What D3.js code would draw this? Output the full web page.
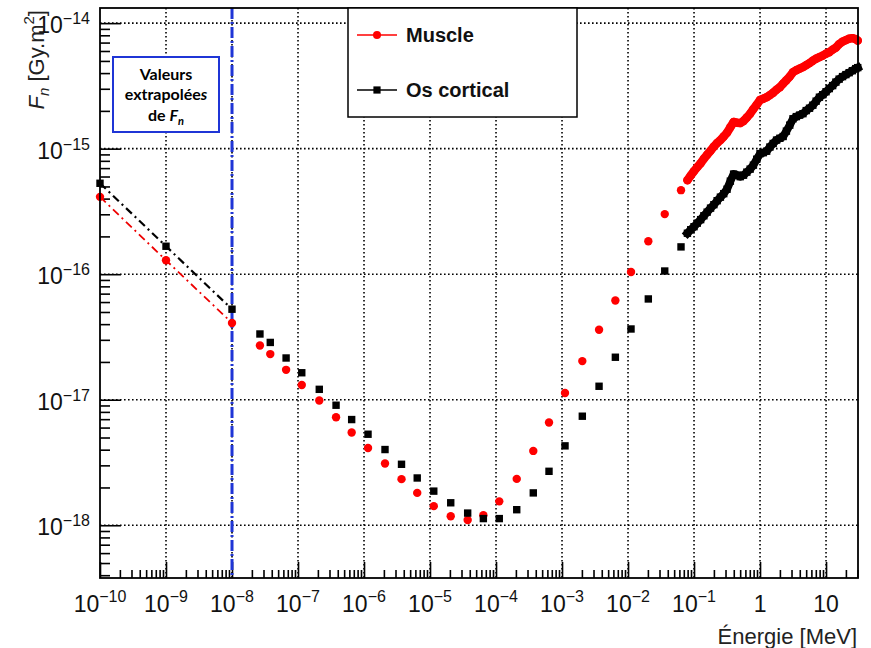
<!DOCTYPE html>
<html><head><meta charset="utf-8">
<script src="https://cdn.jsdelivr.net/npm/d3@7"></script>
<style>body{margin:0;background:#fff;} svg{display:block;font-family:"Liberation Sans",Arial,sans-serif;}</style>
</head><body><svg id="c" width="871" height="648"></svg>
<script>
// ---- data ----
const seriesNames = ["Muscle", "Os cortical"];

const energyExtrap = [1e-10, 1e-9, 1e-8];
const muscleExtrap = [4.13e-16, 1.29e-16, 4.09e-17];
const osExtrap     = [5.3e-16, 1.67e-16, 5.26e-17];

const energyLow = [2.65e-8, 3.8e-8, 6.6e-8, 1.14e-7, 2.1e-7, 3.77e-7, 6.5e-7, 1.15e-6, 2.08e-6, 3.7e-6, 6.4e-6,
  1.14e-5, 2.06e-5, 3.72e-5, 6.43e-5, 1.12e-4, 2.06e-4, 3.67e-4, 6.35e-4, 1.11e-3, 2.03e-3, 3.64e-3, 6.43e-3,
  1.11e-2, 2.03e-2, 3.6e-2, 6.35e-2];
const muscleLow = [2.70e-17, 2.31e-17, 1.73e-17, 1.31e-17, 9.86e-18, 7.26e-18, 5.48e-18, 4.13e-18, 3.10e-18, 2.33e-18, 1.81e-18,
  1.42e-18, 1.18e-18, 1.10e-18, 1.20e-18, 1.55e-18, 2.34e-18, 3.91e-18, 6.58e-18, 1.13e-17, 2.03e-17, 3.61e-17, 6.17e-17,
  1.04e-16, 1.83e-16, 3.01e-16, 4.67e-16];
const osLow = [3.34e-17, 2.86e-17, 2.15e-17, 1.64e-17, 1.21e-17, 9.04e-18, 6.95e-18, 5.31e-18, 4.01e-18, 3.06e-18, 2.38e-18,
  1.87e-18, 1.51e-18, 1.25e-18, 1.13e-18, 1.13e-18, 1.33e-18, 1.81e-18, 2.69e-18, 4.29e-18, 7.39e-18, 1.28e-17, 2.18e-17,
  3.66e-17, 6.35e-17, 1.06e-16, 1.65e-16];

const energyHigh = [0.0794, 0.0891, 0.1, 0.112, 0.126, 0.141, 0.158, 0.178, 0.2, 0.224, 0.251, 0.282, 0.316, 0.355,
  0.398, 0.447, 0.501, 0.562, 0.631, 0.708, 0.794, 0.891, 1, 1.12, 1.26, 1.41, 1.58, 1.78, 2, 2.24, 2.51, 2.82,
  3.16, 3.55, 3.98, 4.47, 5.01, 5.62, 6.31, 7.08, 7.94, 8.91, 10, 11.2, 12.6, 14.1, 15.8, 17.8, 20, 22.4, 25.1, 28.2, 30.2];
const muscleHigh = [5.61e-16, 6.10e-16, 6.62e-16, 7.13e-16, 7.66e-16, 8.32e-16, 8.95e-16, 9.64e-16, 1.04e-15, 1.11e-15,
  1.17e-15, 1.25e-15, 1.34e-15, 1.48e-15, 1.63e-15, 1.61e-15, 1.60e-15, 1.66e-15, 1.77e-15, 1.90e-15, 2.07e-15, 2.24e-15,
  2.44e-15, 2.50e-15, 2.57e-15, 2.67e-15, 2.79e-15, 2.95e-15, 3.09e-15, 3.30e-15, 3.51e-15, 3.75e-15, 4.07e-15, 4.22e-15,
  4.34e-15, 4.46e-15, 4.63e-15, 4.80e-15, 5.02e-15, 5.21e-15, 5.36e-15, 5.51e-15, 5.71e-15, 5.87e-15, 6.15e-15, 6.38e-15,
  6.81e-15, 7.13e-15, 7.32e-15, 7.52e-15, 7.59e-15, 7.46e-15, 7.26e-15];
const osHigh = [2.12e-16, 2.26e-16, 2.39e-16, 2.55e-16, 2.72e-16, 2.92e-16, 3.12e-16, 3.36e-16, 3.58e-16, 3.85e-16,
  4.11e-16, 4.38e-16, 4.75e-16, 5.51e-16, 6.27e-16, 6.15e-16, 5.98e-16, 6.15e-16, 6.50e-16, 6.87e-16, 7.39e-16, 8.24e-16,
  9.12e-16, 9.29e-16, 9.55e-16, 1.03e-15, 1.10e-15, 1.17e-15, 1.21e-15, 1.25e-15, 1.38e-15, 1.54e-15, 1.73e-15, 1.80e-15,
  1.85e-15, 1.90e-15, 2.01e-15, 2.10e-15, 2.22e-15, 2.39e-15, 2.57e-15, 2.69e-15, 2.84e-15, 3.01e-15, 3.18e-15, 3.39e-15,
  3.58e-15, 3.75e-15, 3.89e-15, 4.03e-15, 4.18e-15, 4.34e-15, 4.42e-15];

const xTickValues = [1e-10, 1e-9, 1e-8, 1e-7, 1e-6, 1e-5, 1e-4, 1e-3, 1e-2, 1e-1, 1, 10];
const xTickBases  = ["10","10","10","10","10","10","10","10","10","10","1","10"];
const xTickSups   = ["−10","−9","−8","−7","−6","−5","−4","−3","−2","−1","",""];
const yTickValues = [1e-18, 1e-17, 1e-16, 1e-15, 1e-14];
const yTickBases  = ["10","10","10","10","10"];
const yTickSups   = ["−18","−17","−16","−15","−14"];
const boundary = 1e-8;

// ---- drawing ----
const svg = d3.select("#c");
const L = 100, R = 858, T = 8, B = 578;
const x = d3.scaleLog().domain([1e-10, 30.5]).range([L, R]);
const y = d3.scaleLog().domain([3.8e-19, 1.32e-14]).range([B, T]);

function minorTicks(scale) {
  const [a, b] = scale.domain();
  const out = [];
  for (let e = Math.floor(Math.log10(a)); e <= Math.ceil(Math.log10(b)); e++) {
    for (let k = 2; k <= 9; k++) {
      const v = k * Math.pow(10, e);
      if (v > a && v < b) out.push(v);
    }
  }
  return out;
}

// grid
const grid = svg.append("g");
grid.selectAll(".gx").data(xTickValues.slice(1)).join("line")
  .attr("x1", d => x(d)).attr("x2", d => x(d)).attr("y1", T).attr("y2", B)
  .attr("stroke", "#000").attr("stroke-width", 1.6).attr("stroke-dasharray", "1.6,2.4");
grid.selectAll(".gy").data(yTickValues).join("line")
  .attr("y1", d => y(d)).attr("y2", d => y(d)).attr("x1", L).attr("x2", R)
  .attr("stroke", "#000").attr("stroke-width", 1.6).attr("stroke-dasharray", "1.6,2.4");

// axes (inward ticks)
const axStyle = g => { g.select(".domain").remove(); g.selectAll("line").attr("stroke", "#000").attr("stroke-width", 1.6); };
svg.append("g").attr("transform", `translate(0,${B})`)
  .call(d3.axisBottom(x).tickValues(minorTicks(x)).tickSize(-8).tickFormat("")).call(axStyle);
svg.append("g").attr("transform", `translate(0,${B})`)
  .call(d3.axisBottom(x).tickValues(xTickValues).tickSize(-16).tickFormat("")).call(axStyle);
svg.append("g").attr("transform", `translate(${L},0)`)
  .call(d3.axisLeft(y).tickValues(minorTicks(y)).tickSize(-10).tickFormat("")).call(axStyle);
svg.append("g").attr("transform", `translate(${L},0)`)
  .call(d3.axisLeft(y).tickValues(yTickValues).tickSize(-21).tickFormat("")).call(axStyle);

// tick labels
const xl = svg.append("g").selectAll("text").data(xTickValues).join("text")
  .attr("x", d => x(d)).attr("y", 612).attr("text-anchor", "middle").attr("fill", "#111");
xl.append("tspan").attr("font-size", 23).text((d, i) => xTickBases[i]);
xl.append("tspan").attr("font-size", 16).attr("dy", -10).text((d, i) => xTickSups[i]);

const yl = svg.append("g").selectAll("text").data(yTickValues).join("text")
  .attr("x", 90).attr("y", d => y(d) + 10).attr("text-anchor", "end").attr("fill", "#111");
yl.append("tspan").attr("font-size", 23).text((d, i) => yTickBases[i]);
yl.append("tspan").attr("font-size", 16).attr("dy", -9).text((d, i) => yTickSups[i]);

// boundary line
svg.append("line").attr("x1", x(boundary)).attr("x2", x(boundary)).attr("y1", T).attr("y2", B)
  .attr("stroke", "#1f35d6").attr("stroke-width", 3).attr("stroke-dasharray", "11,3,2,3");

// extrapolation lines
const lineGen = d3.line().x(d => x(d[0])).y(d => y(d[1]));
svg.append("path").datum(energyExtrap.map((e, i) => [e, muscleExtrap[i]])).attr("d", lineGen)
  .attr("fill", "none").attr("stroke", "#e00").attr("stroke-width", 1.8).attr("stroke-dasharray", "8,4,2,4");
svg.append("path").datum(energyExtrap.map((e, i) => [e, osExtrap[i]])).attr("d", lineGen)
  .attr("fill", "none").attr("stroke", "#000").attr("stroke-width", 2.2).attr("stroke-dasharray", "8,4,2,4");

// dense high-energy markers overlap into a solid band: fill the band through the same points
svg.append("path").datum(energyHigh.map((e, i) => [e, muscleHigh[i]])).attr("d", lineGen)
  .attr("fill", "none").attr("stroke", "#f00").attr("stroke-width", 8.5).attr("stroke-linejoin", "round").attr("stroke-linecap", "round");
svg.append("path").datum(energyHigh.map((e, i) => [e, osHigh[i]])).attr("d", lineGen)
  .attr("fill", "none").attr("stroke", "#000").attr("stroke-width", 8).attr("stroke-linejoin", "round").attr("stroke-linecap", "square");

// markers
const muscle = [...energyExtrap.map((e, i) => [e, muscleExtrap[i]]), ...energyLow.map((e, i) => [e, muscleLow[i]]), ...energyHigh.map((e, i) => [e, muscleHigh[i]])];
const os = [...energyExtrap.map((e, i) => [e, osExtrap[i]]), ...energyLow.map((e, i) => [e, osLow[i]]), ...energyHigh.map((e, i) => [e, osHigh[i]])];
svg.append("g").selectAll("circle").data(muscle).join("circle")
  .attr("cx", d => x(d[0])).attr("cy", d => y(d[1])).attr("r", 4.2).attr("fill", "#f00");
svg.append("g").selectAll("rect").data(os).join("rect")
  .attr("x", d => x(d[0]) - 3.7).attr("y", d => y(d[1]) - 3.7).attr("width", 7.4).attr("height", 7.4).attr("fill", "#000");

// frame
svg.append("rect").attr("x", L).attr("y", T).attr("width", R - L).attr("height", B - T)
  .attr("fill", "none").attr("stroke", "#000").attr("stroke-width", 1.8);

// legend
const lg = svg.append("g");
lg.append("rect").attr("x", 348).attr("y", T).attr("width", 229).attr("height", 109)
  .attr("fill", "#fff").attr("stroke", "#000").attr("stroke-width", 1.5);
const rows = [{y: 35, c: "#f00", m: "circle"}, {y: 90, c: "#000", m: "square"}];
rows.forEach((r, i) => {
  lg.append("line").attr("x1", 357).attr("x2", 397).attr("y1", r.y).attr("y2", r.y).attr("stroke", r.c).attr("stroke-width", 1.5);
  if (r.m === "circle") lg.append("circle").attr("cx", 377).attr("cy", r.y).attr("r", 4).attr("fill", r.c);
  else lg.append("rect").attr("x", 373.4).attr("y", r.y - 3.6).attr("width", 7.2).attr("height", 7.2).attr("fill", r.c);
  lg.append("text").attr("x", 406).attr("y", r.y + 7).attr("font-size", 20).attr("font-weight", "bold").attr("fill", "#111").text(seriesNames[i]);
});

// annotation box
const ab = svg.append("g");
ab.append("rect").attr("x", 113).attr("y", 57).attr("width", 106).attr("height", 75)
  .attr("fill", "#fff").attr("stroke", "#1f35d6").attr("stroke-width", 2);
const af = "Lato, 'Open Sans', sans-serif";
ab.append("text").attr("x", 166).attr("y", 80).attr("text-anchor", "middle").attr("font-family", af)
  .attr("font-size", 16).attr("font-weight", "bold").text("Valeurs");
const t2 = ab.append("text").attr("x", 166).attr("y", 100).attr("text-anchor", "middle").attr("font-family", af)
  .attr("font-size", 16).attr("font-weight", "bold");
t2.append("tspan").text("extrapolée");
t2.append("tspan").attr("font-style", "italic").text("s");
const t3 = ab.append("text").attr("x", 166).attr("y", 121).attr("text-anchor", "middle").attr("font-family", af)
  .attr("font-size", 16).attr("font-weight", "bold");
t3.append("tspan").text("de ");
t3.append("tspan").attr("font-style", "italic").text("F");
t3.append("tspan").attr("font-style", "italic").attr("font-size", 11).attr("dy", 4).text("n");

// axis titles
const yt = svg.append("text").attr("transform", "translate(44,10) rotate(-90)").attr("text-anchor", "end")
  .attr("font-size", 22).attr("fill", "#222");
yt.append("tspan").attr("font-style", "italic").text("F");
yt.append("tspan").attr("font-style", "italic").attr("font-size", 15).attr("dy", 5).text("n");
yt.append("tspan").attr("dy", -5).text(" [Gy.m");
yt.append("tspan").attr("font-size", 15).attr("dy", -10).text("2");
yt.append("tspan").attr("dy", 10).text("]");

svg.append("text").attr("x", 857).attr("y", 644).attr("text-anchor", "end").attr("font-size", 22)
  .attr("fill", "#222").text("Énergie [MeV]");
</script>
</body></html>
